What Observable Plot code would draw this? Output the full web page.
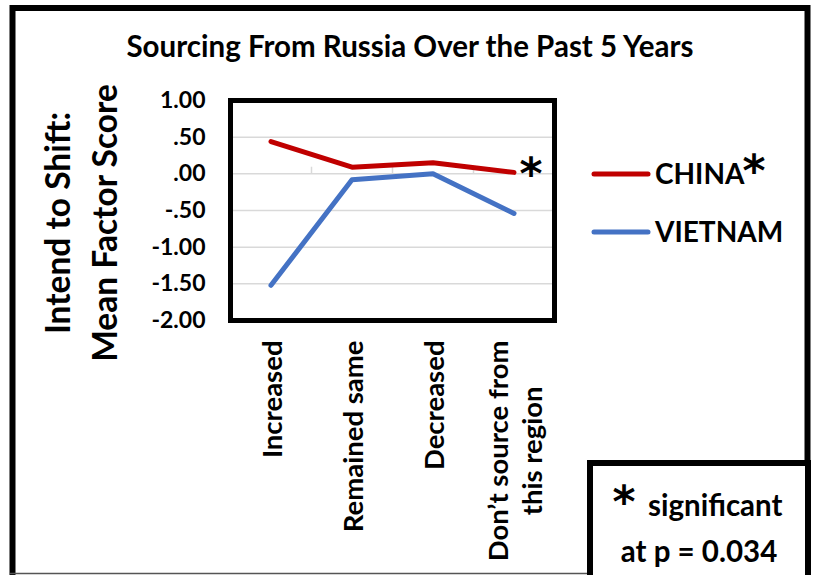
<!DOCTYPE html>
<html><head><meta charset="utf-8">
<script src="https://cdn.jsdelivr.net/npm/d3@7"></script>
<script src="https://cdn.jsdelivr.net/npm/@observablehq/plot@0.6"></script>
<style>
html,body{margin:0;padding:0;background:#fff;}
#wrap{position:relative;width:815px;height:575px;overflow:hidden;}
</style></head><body><div id="wrap"></div>
<script>
// ---- data ----
const categories = ["Increased", "Remained same", "Decreased", "Don\u2019t source from\nthis region"];
const china = [0.44, 0.09, 0.15, 0.02];
const vietnam = [-1.52, -0.08, 0.00, -0.54];
const seriesNames = ["CHINA", "VIETNAM"];
const seriesColors = ["#C00000", "#4472C4"];
const yTicks = [1, 0.5, 0, -0.5, -1, -1.5, -2];
const yTickLabels = ["1.00", ".50", ".00", "-.50", "-1.00", "-1.50", "-2.00"];
const titleText = "Sourcing From Russia Over the Past 5 Years";
const yTitleLines = ["Intend to Shift:", "Mean Factor Score"];
const noteLines = ["significant", "at p = 0.034"];

const FONT = "Lato, 'Open Sans', sans-serif";
const STAR_FONT = "'DejaVu Sans', sans-serif";
const rows = [
  ...china.map((v, i) => ({series: seriesNames[0], i, v})),
  ...vietnam.map((v, i) => ({series: seriesNames[1], i, v}))
];
const lastChina = rows.filter(d => d.series === seriesNames[0] && d.i === categories.length - 1);
const boundaries = d3.range(categories.length + 1).map(i => i - 0.5);

const plot = Plot.plot({
  width: 815, height: 575,
  marginLeft: 230, marginRight: 261, marginTop: 100, marginBottom: 255,
  style: {fontFamily: FONT, fontWeight: 700, background: "transparent", color: "#000"},
  x: {domain: [-0.5, categories.length - 0.5]},
  y: {domain: [-2, 1]},
  color: {domain: seriesNames, range: seriesColors},
  marks: [
    Plot.ruleY(yTicks, {stroke: "#D9D9D9", strokeWidth: 1.5}),
    Plot.ruleX(boundaries, {y1: 0, y2: 0.09, stroke: "#D9D9D9", strokeWidth: 1.5}),
    Plot.line(rows, {x: "i", y: "v", z: "series", stroke: "series", strokeWidth: 5,
      strokeLinecap: "round", strokeLinejoin: "round"}),
    Plot.text(lastChina, {x: "i", y: "v", text: () => "*", dx: 17, dy: 3, fontSize: 44,
      fontFamily: STAR_FONT, fill: "#000", fontWeight: 700}),
    Plot.frame({stroke: "#000", strokeWidth: 5}),
    Plot.axisY({ticks: yTicks, tickFormat: d => yTickLabels[yTicks.indexOf(d)], tickSize: 0,
      tickPadding: 25, fontSize: 23, fontWeight: 700, label: null}),
    Plot.axisX({ticks: d3.range(categories.length), tickFormat: i => categories[i], tickSize: 0,
      tickRotate: -90, tickPadding: 20, fontSize: 27.5, lineHeight: 1.25, fontWeight: 700, label: null})
  ]
});
plot.style.position = "absolute";
plot.style.left = "0px";
plot.style.top = "0px";
plot.style.maxWidth = "none";
document.getElementById("wrap").appendChild(plot);

// center the two-line category label as a block (like the original)
d3.select(plot).selectAll("text").each(function () {
  const tspans = this.querySelectorAll("tspan");
  if (tspans.length > 1 && this.getAttribute("transform") && /rotate/.test(this.getAttribute("transform"))) {
    const L1 = tspans[0].getComputedTextLength();
    this.setAttribute("text-anchor", "middle");
    this.setAttribute("transform", this.getAttribute("transform") + ` translate(${-L1 / 2},0)`);
  }
});

// ---- annotations (title, axis title, legend, note, borders) ----
const svg = d3.select(plot);
const ann = svg.append("g").attr("font-family", FONT).attr("font-weight", 700).attr("fill", "#000");

// outer border
ann.append("rect").attr("x", 12.5).attr("y", 8).attr("width", 795).attr("height", 620)
  .attr("fill", "none").attr("stroke", "#000").attr("stroke-width", 6);
ann.append("line").attr("x1", 10).attr("x2", 811).attr("y1", 573.5).attr("y2", 573.5)
  .attr("stroke", "#555").attr("stroke-width", 1.5);

// title
ann.append("text").attr("x", 410).attr("y", 57).attr("text-anchor", "middle")
  .attr("font-size", 29.5).text(titleText);

// y axis title
const yTitleX = [70, 117];
yTitleLines.forEach((t, k) => {
  ann.append("text").attr("transform", `translate(${yTitleX[k]},223) rotate(-90)`)
    .attr("text-anchor", "middle").attr("font-size", 33.5).text(t);
});

// legend
const legendY = [174, 232];
seriesNames.forEach((name, k) => {
  ann.append("line").attr("x1", 594).attr("x2", 648).attr("y1", legendY[k]).attr("y2", legendY[k])
    .attr("stroke", seriesColors[k]).attr("stroke-width", 5).attr("stroke-linecap", "round");
  ann.append("text").attr("x", 655).attr("y", legendY[k]).attr("dy", "0.36em")
    .attr("text-anchor", "start").attr("font-size", 28).text(name);
});
ann.append("text").attr("x", 754).attr("y", 186).attr("text-anchor", "middle")
  .attr("font-family", STAR_FONT).attr("font-size", 44).text("*");

// note box
ann.append("rect").attr("x", 590).attr("y", 463).attr("width", 218).attr("height", 200)
  .attr("fill", "#fff").attr("stroke", "#000").attr("stroke-width", 6);
ann.append("text").attr("x", 624).attr("y", 517).attr("text-anchor", "middle")
  .attr("font-family", STAR_FONT).attr("font-size", 44).text("*");
ann.append("text").attr("x", 648).attr("y", 516).attr("text-anchor", "start")
  .attr("font-size", 29.5).text(noteLines[0]);
ann.append("text").attr("x", 699).attr("y", 562).attr("text-anchor", "middle")
  .attr("font-size", 29.5).text(noteLines[1]);
</script></body></html>
